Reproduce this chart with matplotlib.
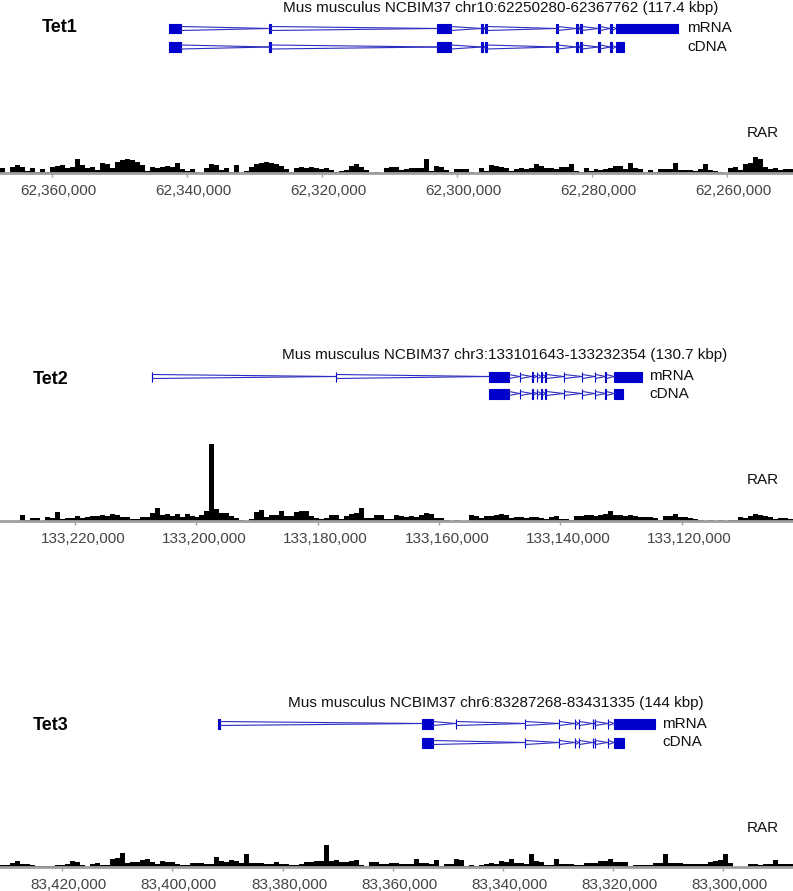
import numpy as np
import matplotlib.pyplot as plt
import matplotlib.transforms as mtransforms
from matplotlib.patches import Rectangle

plt.rcParams['font.family'] = ['Liberation Sans', 'DejaVu Sans']

W, H = 793, 891

# ---- data ----
genes = ['Tet1', 'Tet2', 'Tet3']
chroms = ['chr10', 'chr3', 'chr6']
region_start = [62250280, 133101643, 83287268]
region_end = [62367762, 133232354, 83431335]
region_kbp = ['117.4', '130.7', '144']

ticks_1 = [62360000, 62340000, 62320000, 62300000, 62280000, 62260000]
ticks_2 = [133220000, 133200000, 133180000, 133160000, 133140000, 133120000]
ticks_3 = [83420000, 83400000, 83380000, 83360000, 83340000, 83320000, 83300000]

mrna_1 = [(62340950, 62342730), (62327650, 62327850), (62300950, 62303020),
          (62296250, 62296450), (62295650, 62295850), (62285150, 62285350),
          (62282200, 62282400), (62281600, 62281800), (62278900, 62279100),
          (62277150, 62277350), (62267320, 62276500)]
cdna_1 = [(62340950, 62342730), (62327650, 62327850), (62300950, 62303020),
          (62296250, 62296450), (62295650, 62295850), (62285150, 62285350),
          (62282200, 62282400), (62281600, 62281800), (62278900, 62279100),
          (62277150, 62277350), (62275320, 62276500)]

mrna_2 = [(133207220, 133207380), (133176890, 133177050), (133148456, 133151752),
          (133146560, 133146720), (133144580, 133144740), (133143760, 133143920),
          (133142940, 133143100), (133142280, 133142440), (133139310, 133139470),
          (133136340, 133136500), (133134200, 133134360), (133132390, 133132550),
          (133126533, 133131148)]
cdna_2 = [(133148456, 133151752),
          (133146560, 133146720), (133144580, 133144740), (133143760, 133143920),
          (133142940, 133143100), (133142280, 133142440), (133139310, 133139470),
          (133136340, 133136500), (133134200, 133134360), (133132390, 133132550),
          (133129665, 133131148)]

mrna_3 = [(83391450, 83391800), (83352672, 83354670), (83348410, 83348580),
          (83335880, 83336040), (83329700, 83329860), (83326790, 83326950),
          (83326070, 83326230), (83323530, 83323690), (83323160, 83323320),
          (83320800, 83320960), (83312341, 83319790)]
cdna_3 = [(83352672, 83354670),
          (83335880, 83336040), (83329700, 83329860), (83326790, 83326950),
          (83326070, 83326230), (83323530, 83323690), (83323160, 83323320),
          (83320800, 83320960), (83317973, 83319790)]

# RAR signal, bins running left to right across the shown region
rar_1 = [5, 0, 6, 8, 6, 2, 5, 1, 4, 1, 6, 7, 8, 5, 6, 14, 8, 5, 6, 3,
         10, 9, 5, 11, 13, 14, 13, 11, 8, 2, 6, 5, 6, 7, 6, 10, 4, 2, 4, 1,
         0, 5, 9, 8, 3, 5, 1, 8, 0, 2, 6, 9, 10, 11, 10, 9, 7, 4, 1, 5,
         6, 5, 6, 5, 4, 5, 3, 1, 2, 3, 7, 9, 6, 3, 0, 1, 0, 5, 6, 6,
         3, 4, 5, 5, 5, 14, 2, 7, 6, 3, 1, 4, 4, 4, 1, 0, 5, 2, 8, 7,
         6, 5, 2, 4, 5, 4, 5, 9, 7, 5, 5, 4, 6, 6, 9, 2, 1, 5, 2, 4,
         3, 4, 5, 7, 7, 4, 10, 5, 4, 1, 3, 1, 4, 4, 4, 10, 3, 3, 3, 2,
         4, 9, 3, 2, 1, 0, 5, 6, 3, 9, 10, 16, 14, 6, 4, 5, 3, 4, 4]
rar_2 = [0, 0, 0, 0, 6, 1, 3, 3, 0, 4, 3, 9, 2, 3, 3, 5, 3, 4, 5, 5,
         6, 5, 7, 6, 4, 4, 2, 2, 4, 4, 8, 13, 6, 7, 5, 7, 4, 7, 5, 4,
         6, 10, 77, 12, 8, 8, 5, 3, 1, 0, 2, 9, 11, 4, 6, 6, 10, 5, 5, 9,
         10, 10, 5, 3, 2, 3, 6, 6, 2, 5, 7, 8, 13, 3, 3, 6, 6, 2, 2, 6,
         5, 4, 5, 4, 6, 8, 7, 3, 3, 1, 0, 1, 0, 0, 6, 5, 3, 5, 5, 6,
         7, 6, 3, 4, 4, 3, 4, 4, 3, 2, 4, 5, 2, 2, 1, 5, 5, 6, 6, 5,
         6, 7, 10, 6, 6, 5, 6, 5, 4, 4, 4, 3, 1, 5, 5, 7, 4, 4, 3, 2,
         1, 0, 1, 0, 1, 0, 1, 1, 4, 3, 5, 7, 6, 5, 4, 2, 3, 3, 2]
rar_3 = [2, 2, 4, 6, 3, 3, 2, 1, 1, 1, 1, 2, 2, 3, 6, 5, 2, 0, 3, 4,
         2, 2, 8, 9, 14, 4, 5, 5, 7, 8, 5, 3, 6, 5, 5, 3, 2, 2, 4, 4,
         4, 3, 3, 10, 6, 5, 7, 6, 4, 13, 4, 4, 4, 3, 3, 5, 3, 3, 2, 2,
         3, 5, 5, 6, 6, 22, 6, 7, 5, 5, 6, 7, 2, 1, 5, 5, 3, 3, 4, 4,
         3, 3, 3, 8, 4, 4, 3, 7, 1, 3, 3, 8, 7, 1, 2, 1, 2, 3, 4, 3,
         6, 5, 8, 4, 4, 3, 13, 6, 5, 2, 2, 8, 3, 3, 3, 2, 2, 4, 4, 4,
         6, 6, 8, 5, 5, 5, 1, 2, 2, 2, 2, 4, 4, 13, 4, 4, 4, 3, 3, 3,
         3, 3, 5, 6, 7, 13, 4, 0, 0, 0, 3, 3, 2, 3, 3, 7, 3, 3, 3]

# ---- layout (pixels from top) ----
panels = [
    dict(ticks=ticks_1, mrna=mrna_1, cdna=cdna_1, rar=rar_1,
         title_xy=(283, 8), tet_xy=(42, 28), mrna_y=28.5, cdna_y=47,
         lab_x=687, rar_y=133, base=173, lab_shift=6),
    dict(ticks=ticks_2, mrna=mrna_2, cdna=cdna_2, rar=rar_2,
         title_xy=(282, 355), tet_xy=(33, 379), mrna_y=376.5, cdna_y=393.5,
         lab_x=649, rar_y=480, base=521, lab_shift=8),
    dict(ticks=ticks_3, mrna=mrna_3, cdna=cdna_3, rar=rar_3,
         title_xy=(288, 703), tet_xy=(33, 725), mrna_y=723.5, cdna_y=742.5,
         lab_x=662, rar_y=828, base=867, lab_shift=6.5),
]

blue = '#0000cc'
line_blue = '#2c2cc0'
sig_h = 90

fig = plt.figure(figsize=(W / 100, H / 100), dpi=100)


def ftext(x, y, s, **kw):
    fig.text(x / W, 1 - y / H, s, va='center', ha='left', **kw)


def draw_transcript(ax, exons, yc):
    ex = sorted(exons, key=lambda e: -e[1])
    for s, e in ex:
        ax.add_patch(Rectangle((s, yc - 5), e - s, 10, facecolor=blue,
                               edgecolor=blue, lw=0.8))
    for a, b in zip(ex[:-1], ex[1:]):
        x0, x1 = a[0], b[1]
        ax.plot([x0, x1], [yc - 2, yc], color=line_blue, lw=0.8)
        ax.plot([x0, x1], [yc + 2, yc], color=line_blue, lw=0.8)


for i, p in enumerate(panels):
    lo, hi = region_start[i], region_end[i]

    # gene models
    top = p['mrna_y'] - 12
    bot = p['cdna_y'] + 12
    axg = fig.add_axes([0, 1 - bot / H, 1, (bot - top) / H])
    axg.set_xlim(hi, lo)
    axg.set_ylim(bot, top)
    axg.axis('off')
    draw_transcript(axg, p['mrna'], p['mrna_y'])
    draw_transcript(axg, p['cdna'], p['cdna_y'])

    # signal track
    axs = fig.add_axes([0, 1 - p['base'] / H, 1, sig_h / H])
    vals = np.array(p['rar'], dtype=float)
    edges = np.linspace(hi, lo, len(vals) + 1)
    axs.stairs(vals[::-1], edges[::-1], fill=True, color='black', lw=0)
    axs.set_xlim(hi, lo)
    axs.set_ylim(0, sig_h)
    for sp in ['top', 'left', 'right']:
        axs.spines[sp].set_visible(False)
    axs.spines['bottom'].set_color('#a0a0a0')
    axs.spines['bottom'].set_linewidth(2)
    axs.set_yticks([])
    axs.set_xticks(p['ticks'])
    axs.set_xticklabels(['{:,}'.format(t) for t in p['ticks']])
    axs.tick_params(axis='x', length=3, width=1, color='#a0a0a0', pad=5,
                    labelsize=11, labelcolor='#444444')
    shift = mtransforms.ScaledTranslation(p['lab_shift'] / 100, 0,
                                          fig.dpi_scale_trans)
    for lab in axs.get_xticklabels():
        lab.set_transform(lab.get_transform() + shift)
    axs.patch.set_alpha(0)

    # texts
    tx, ty = p['title_xy']
    ftext(tx, ty, 'Mus musculus NCBIM37 %s:%d-%d (%s kbp)'
          % (chroms[i], lo, hi, region_kbp[i]), fontsize=11, color='#111111')
    ftext(p['tet_xy'][0], p['tet_xy'][1], genes[i], fontsize=13,
          fontweight='bold')
    ftext(p['lab_x'], p['mrna_y'], 'mRNA', fontsize=11, color='#111111')
    ftext(p['lab_x'], p['cdna_y'], 'cDNA', fontsize=11, color='#111111')
    ftext(747, p['rar_y'], 'RAR', fontsize=11, color='#111111')

fig.savefig('out.png', dpi=100)
